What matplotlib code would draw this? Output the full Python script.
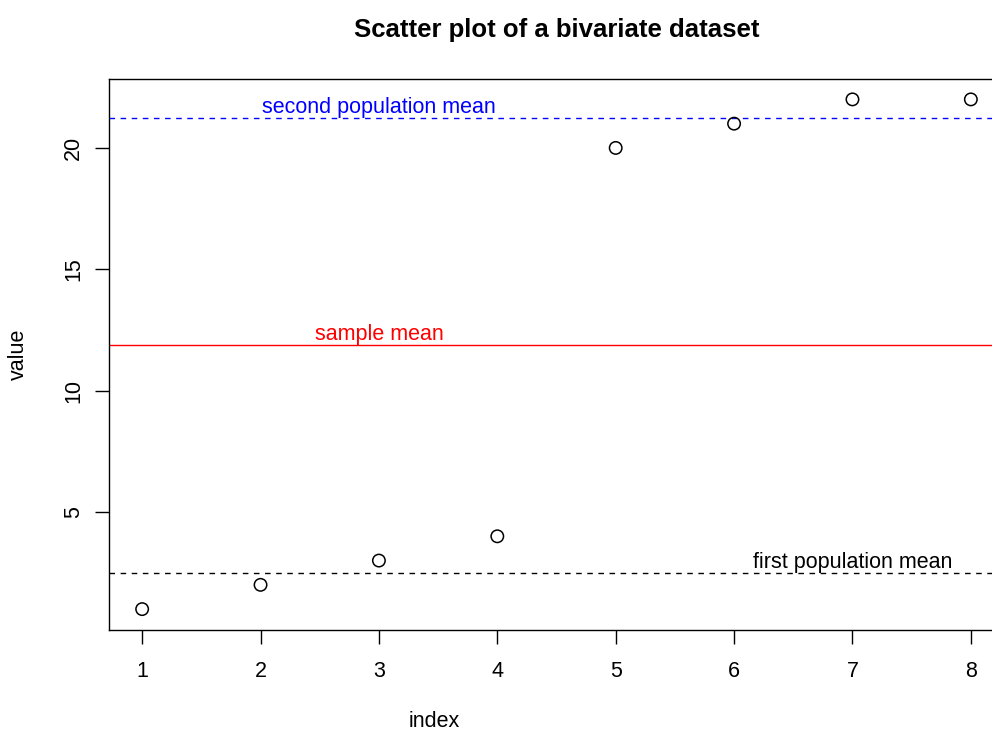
import numpy as np
import matplotlib
matplotlib.use('Agg')
import matplotlib.pyplot as plt

plt.rcParams['font.family'] = ['Liberation Sans', 'DejaVu Sans']

# data
index = [1, 2, 3, 4, 5, 6, 7, 8]
value = [1, 2, 3, 4, 20, 21, 22, 22]
first_mean = np.mean(value[:4])
second_mean = np.mean(value[4:])
sample_mean = np.mean(value)

W, H = 992, 733
fig = plt.figure(figsize=(W/100, H/100), dpi=100)
# R style plot region: box goes past right edge of image
ax = fig.add_axes([109/W, (H-629.5)/H, (1004-109)/W, (629.5-79)/H])

ax.scatter(index, value, s=80, facecolors='none', edgecolors='black', linewidths=1.1, zorder=3)
ax.axhline(sample_mean, color='red', lw=1)
ax.axhline(first_mean, color='black', lw=1, ls=(0, (4, 4)))
ax.axhline(second_mean, color='blue', lw=1, ls=(0, (4, 4)))

fs = 15.5
ax.annotate('sample mean', (3, sample_mean), xytext=(0, 0), textcoords='offset points',
            ha='center', va='bottom', color='red', fontsize=fs)
ax.annotate('second population mean', (3, second_mean), xytext=(0, 0), textcoords='offset points',
            ha='center', va='bottom', color='blue', fontsize=fs)
ax.annotate('first population mean', (7, first_mean), xytext=(0, 0), textcoords='offset points',
            ha='center', va='bottom', color='black', fontsize=fs)

ax.set_xlim(0.72, 8.28)
ax.set_ylim(0.16, 22.84)
ax.set_xticks(index)
ax.set_yticks([5, 10, 15, 20])
ax.tick_params(labelsize=fs, length=10, width=1)
ax.tick_params(axis='x', pad=13)
ax.tick_params(axis='y', pad=8)
for lab in ax.get_yticklabels():
    lab.set_rotation(90)
    lab.set_va('center')
for s in ax.spines.values():
    s.set_linewidth(1)

fig.text(434/W, 1 - 727/H, 'index', ha='center', va='baseline', fontsize=fs)
fig.text(18/W, 1 - 354/H, 'value', ha='center', va='center', rotation=90, fontsize=fs)
fig.text(557/W, 1 - 30/H, 'Scatter plot of a bivariate dataset', ha='center', va='center',
         fontsize=18.5, fontweight='bold')

fig.savefig('out.png', dpi=100)
